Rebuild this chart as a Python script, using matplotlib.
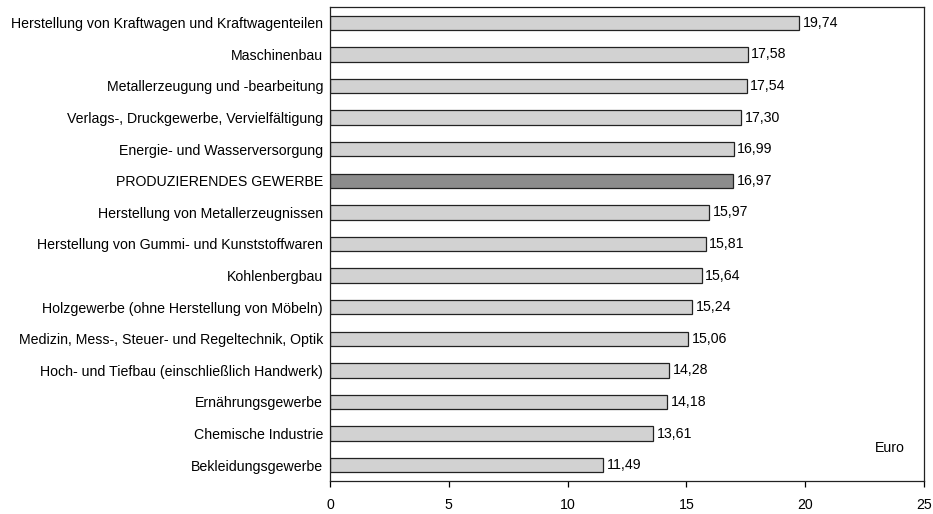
import matplotlib
matplotlib.use("Agg")
import matplotlib.pyplot as plt

# Stundenlöhne nach Wirtschaftszweig (Euro)
branchen = [
    "Herstellung von Kraftwagen und Kraftwagenteilen",
    "Maschinenbau",
    "Metallerzeugung und -bearbeitung",
    "Verlags-, Druckgewerbe, Vervielfältigung",
    "Energie- und Wasserversorgung",
    "PRODUZIERENDES GEWERBE",
    "Herstellung von Metallerzeugnissen",
    "Herstellung von Gummi- und Kunststoffwaren",
    "Kohlenbergbau",
    "Holzgewerbe (ohne Herstellung von Möbeln)",
    "Medizin, Mess-, Steuer- und Regeltechnik, Optik",
    "Hoch- und Tiefbau (einschließlich Handwerk)",
    "Ernährungsgewerbe",
    "Chemische Industrie",
    "Bekleidungsgewerbe",
]
werte = [19.74, 17.58, 17.54, 17.30, 16.99, 16.97, 15.97, 15.81,
         15.64, 15.24, 15.06, 14.28, 14.18, 13.61, 11.49]
x_ticks = [0, 5, 10, 15, 20, 25]
gesamt = "PRODUZIERENDES GEWERBE"

plt.rcParams["font.family"] = ["Liberation Sans", "DejaVu Sans"]
plt.rcParams["font.size"] = 10.2

fig = plt.figure(figsize=(9.33, 5.14), dpi=100)
ax = fig.add_axes([0.3537, 0.0642, 0.6367, 0.9222])

farben = ["#8c8c8c" if b == gesamt else "#d2d2d2" for b in branchen]
pos = list(range(len(branchen)))
ax.barh(pos, werte, height=0.45, color=farben, edgecolor="#222222", linewidth=0.9)

for p, w in zip(pos, werte):
    ax.text(w + 0.15, p, f"{w:.2f}".replace(".", ","), va="center", ha="left")

ax.set_yticks(pos)
ax.set_yticklabels(branchen)
ax.set_ylim(len(branchen) - 0.5, -0.5)
ax.set_xlim(0, 25)
ax.set_xticks(x_ticks)
ax.tick_params(axis="y", length=0, pad=5)
ax.tick_params(axis="x", length=4, width=0.9, direction="out", pad=8)

for s in ax.spines.values():
    s.set_linewidth(0.9)
    s.set_color("#222222")

ax.text(0.943, 0.07, "Euro", transform=ax.transAxes, ha="center", va="center")

fig.savefig("out.png", dpi=100)
